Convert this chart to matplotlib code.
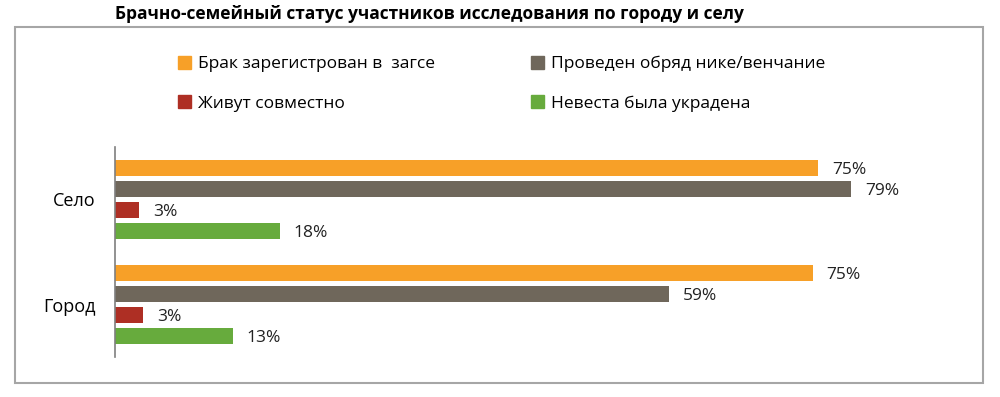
import matplotlib.pyplot as plt
from matplotlib.patches import Rectangle, Patch
import numpy as np

plt.rcParams['font.family'] = ['Open Sans', 'DejaVu Sans']

# Данные
categories = ['Село', 'Город']
series = ['Брак зарегистрован в  загсе', 'Живут совместно',
          'Проведен обряд нике/венчание', 'Невеста была украдена']
# порядок на графике: оранжевый, серый, красный, зелёный
order = [0, 2, 1, 3]
registered = [75.2, 74.6]
nike = [78.7, 59.2]
together = [2.6, 3.0]
stolen = [17.6, 12.6]
values = [registered, together, nike, stolen]
colors = ['#F7A028', '#AE2F24', '#6F675B', '#67AB3D']

fig = plt.figure(figsize=(10, 3.97), dpi=100)

# рамка вокруг диаграммы
fig.patches.append(Rectangle((15 / 1000, 1 - 383 / 397), 968 / 1000, 356 / 397,
                             transform=fig.transFigure, fill=False,
                             edgecolor='#A6A6A6', linewidth=1.5))

fig.text(0.115, 1 - 14 / 397, 'Брачно-семейный статус участников исследования по городу и селу',
         fontsize=12.5, fontweight='bold', ha='left', va='center')

ax = fig.add_axes([0.115, 40 / 397, 0.845, 210 / 397])

y = np.arange(len(categories))
step = 0.2
offsets = {0: -1.5, 2: -0.5, 1: 0.5, 3: 1.5}
for i in order:
    pos = y + offsets[i] * step
    ax.barh(pos, values[i], height=0.16, color=colors[i])
    for p, v in zip(pos, values[i]):
        ax.text(v + 1.5, p + 0.02, f'{v:.0f}%', va='center', ha='left',
                fontsize=12.5, color='#222222')

ax.set_xlim(0, 845 / 9.35)
ax.set_ylim(1.5, -0.5)
ax.set_yticks(y)
ax.set_yticklabels(categories, fontsize=13)
ax.tick_params(axis='y', length=0, pad=14)
ax.set_xticks([])
for s in ['top', 'right', 'bottom']:
    ax.spines[s].set_visible(False)
ax.spines['left'].set_color('#7F7F7F')
ax.spines['left'].set_linewidth(1.2)

handles = [Patch(color=c) for c in colors]
fig.legend(handles, series, ncol=2, loc='upper left',
           bbox_to_anchor=(0.171, 1 - 49 / 397), frameon=False, fontsize=12.5,
           handlelength=0.75, handleheight=0.75, handletextpad=0.4,
           columnspacing=5.55, labelspacing=1.33, borderaxespad=0)

plt.savefig('out.png', dpi=100)
